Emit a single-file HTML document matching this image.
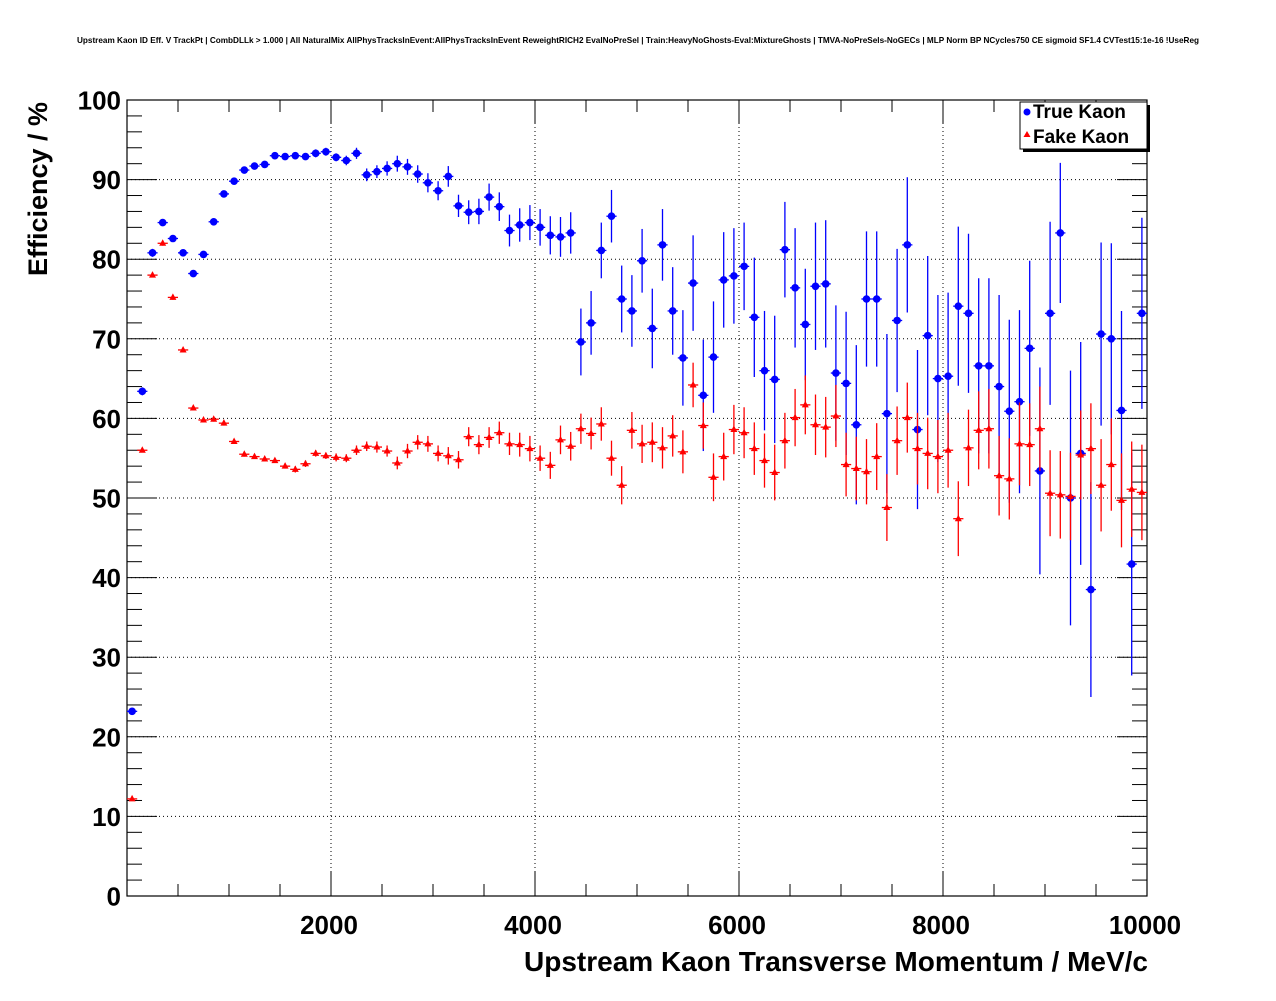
<!DOCTYPE html>
<html><head><meta charset="utf-8"><style>
html,body{margin:0;padding:0;background:#fff}
svg text{font-family:"Liberation Sans",sans-serif;font-weight:bold}
</style></head><body>
<svg id="c" width="1276" height="996" xmlns="http://www.w3.org/2000/svg">
<rect width="1276" height="996" fill="#fff"/>
<text x="638" y="43" font-size="8.2" text-anchor="middle">Upstream Kaon ID Eff. V TrackPt | CombDLLk &gt; 1.000 | All NaturalMix AllPhysTracksInEvent:AllPhysTracksInEvent ReweightRICH2 EvalNoPreSel | Train:HeavyNoGhosts-Eval:MixtureGhosts | TMVA-NoPreSels-NoGECs | MLP Norm BP NCycles750 CE sigmoid SF1.4 CVTest15:1e-16 !UseReg</text>
<g id="grid"></g>
<g id="axes"></g>
<g id="blue"></g>
<g id="red"></g>
<text x="47" y="189" font-size="27" text-anchor="middle" transform="rotate(-90 47 189)">Efficiency / %</text>
<text x="1148" y="971" font-size="28" text-anchor="end">Upstream Kaon Transverse Momentum / MeV/c</text>
<g>
<rect x="1023" y="105" width="127" height="47" fill="#000"/>
<rect x="1020" y="102" width="127" height="47" fill="#fff" stroke="#000" stroke-width="1"/>
<circle cx="1027" cy="112" r="3.5" fill="#0000ff"/>
<text x="1033" y="118" font-size="19" font-weight="normal">True Kaon</text>
<polygon points="1027,131 1030.5,137 1023.5,137" fill="#ff0000"/>
<text x="1033" y="143" font-size="19" font-weight="normal">Fake Kaon</text>
</g>
</svg>
<script>
const binCenters=[];for(let i=0;i<100;i++)binCenters.push(50+100*i);
const trueVals=[23.2,63.4,80.8,84.6,82.6,80.8,78.2,80.6,84.7,88.2,89.8,91.2,91.7,91.9,93.0,92.9,93.0,92.9,93.3,93.5,92.8,92.4,93.3,90.6,91.0,91.4,92.0,91.6,90.7,89.6,88.6,90.4,86.7,85.9,86.0,87.8,86.6,83.6,84.3,84.6,84.0,83.0,82.8,83.3,69.6,72.0,81.1,85.4,75.0,73.5,79.8,71.3,81.8,73.5,67.6,77.0,62.9,67.7,77.4,77.9,79.1,72.7,66.0,64.9,81.2,76.4,71.8,76.6,76.9,65.7,64.4,59.2,75.0,75.0,60.6,72.3,81.8,58.6,70.4,65.0,65.3,74.1,73.2,66.6,66.6,64.0,60.9,62.1,68.8,53.4,73.2,83.3,50.0,55.6,38.5,70.6,70.0,61.0,41.7,73.2];
const trueErrs=[0.4,0.5,0.5,0.4,0.4,0.4,0.4,0.4,0.4,0.4,0.4,0.4,0.4,0.4,0.4,0.4,0.4,0.4,0.5,0.5,0.5,0.6,0.7,0.8,0.8,0.9,1.0,1.0,1.1,1.2,1.2,1.3,1.4,1.5,1.6,1.7,1.8,2.0,2.1,2.2,2.3,2.4,2.5,2.6,4.2,4.0,3.5,3.3,4.2,4.5,4.0,5.0,4.5,5.5,6.0,6.0,7.0,7.0,6.0,6.0,5.5,7.5,7.5,8.0,6.0,7.5,7.0,8.0,8.0,8.5,9.0,10.0,8.5,8.5,10.0,9.0,8.5,10.0,10.0,10.5,10.5,10.0,10.0,11.0,11.0,11.5,11.5,11.5,11.0,13.0,11.5,8.8,16.0,14.0,13.5,11.5,12.0,12.5,14.0,12.0];
const fakeVals=[12.2,56.0,78.0,82.0,75.2,68.6,61.3,59.8,59.9,59.4,57.1,55.5,55.2,54.9,54.7,54.0,53.6,54.3,55.6,55.3,55.1,55.0,56.0,56.5,56.4,55.9,54.4,55.9,57.0,56.8,55.6,55.3,54.8,57.7,56.7,57.6,58.2,56.8,56.7,56.2,55.0,54.1,57.3,56.5,58.7,58.1,59.3,55.0,51.6,58.5,56.8,57.0,56.3,57.8,55.8,64.2,59.1,52.6,55.2,58.6,58.2,56.2,54.7,53.2,57.2,60.1,61.7,59.2,58.9,60.3,54.2,53.7,53.3,55.2,48.8,57.2,60.1,56.2,55.6,55.2,56.0,47.4,56.3,58.5,58.7,52.8,52.4,56.8,56.7,58.7,50.6,50.4,50.2,55.4,56.2,51.6,54.2,49.7,51.1,50.7];
const fakeErrs=[0.2,0.2,0.3,0.3,0.3,0.3,0.3,0.3,0.3,0.3,0.3,0.3,0.3,0.3,0.3,0.3,0.4,0.4,0.4,0.4,0.5,0.5,0.6,0.6,0.7,0.7,0.8,0.9,0.9,1.0,1.0,1.1,1.1,1.2,1.2,1.3,1.4,1.4,1.5,1.6,1.6,1.7,1.8,1.8,1.9,2.0,2.1,2.2,2.4,2.3,2.4,2.5,2.6,2.6,2.7,2.8,2.9,3.0,3.0,3.1,3.2,3.3,3.4,3.5,3.5,3.6,3.7,3.8,3.8,3.9,4.0,4.0,4.1,4.2,4.2,4.3,4.4,4.5,4.5,4.6,4.7,4.7,4.8,4.9,5.0,5.0,5.1,5.2,5.2,5.3,5.4,5.5,5.5,5.6,5.7,5.8,5.8,5.9,6.0,6.0];
const xTicks=[2000,4000,6000,8000,10000];
const yTicks=[0,10,20,30,40,50,60,70,80,90,100];
const NS='http://www.w3.org/2000/svg';
const X0=127,X1=1147,Y0=896,Y1=100;
const xs=v=>X0+(v/10000)*(X1-X0);
const ys=v=>Y0-(v/100)*(Y0-Y1);
function mk(tag,attrs,parent){const e=document.createElementNS(NS,tag);for(const k in attrs)e.setAttribute(k,attrs[k]);parent.appendChild(e);return e;}
const grid=document.getElementById('grid'),axes=document.getElementById('axes');
xTicks.forEach(t=>{if(t<10000){const l=mk('line',{x1:xs(t),x2:xs(t),y1:Y0,y2:Y1,stroke:'#000','stroke-width':1,'stroke-dasharray':'1,3'},grid);

}});
yTicks.forEach(t=>{if(t>0&&t<100){const l=mk('line',{x1:X0,x2:X1,y1:ys(t),y2:ys(t),stroke:'#000','stroke-width':1,'stroke-dasharray':'1,3'},grid);

}});
mk('rect',{x:X0,y:Y1,width:X1-X0,height:Y0-Y1,fill:'none',stroke:'#000','stroke-width':1.2},axes);
for(let v=500;v<10000;v+=500){const maj=v%2000===0;const L=maj?24:12;
mk('line',{x1:xs(v),x2:xs(v),y1:Y0,y2:Y0-L,stroke:'#000'},axes);
mk('line',{x1:xs(v),x2:xs(v),y1:Y1,y2:Y1+L,stroke:'#000'},axes);}
for(let v=2;v<100;v+=2){const maj=v%10===0;const L=maj?30:15;
mk('line',{x1:X0,x2:X0+L,y1:ys(v),y2:ys(v),stroke:'#000'},axes);
mk('line',{x1:X1,x2:X1-L,y1:ys(v),y2:ys(v),stroke:'#000'},axes);}
xTicks.forEach(t=>{const e=mk('text',{x:xs(t)-2,y:934,'font-size':26,'text-anchor':'middle'},axes);e.textContent=t;

});
yTicks.forEach(t=>{const e=mk('text',{x:121,y:ys(t)+9.5,'font-size':26,'text-anchor':'end'},axes);e.textContent=t;

});
function series(g,vals,errs,col,tri,name){
vals.forEach((v,i)=>{const cx=xs(binCenters[i]),cy=ys(v);
const gr=mk('g',{},g);


mk('line',{x1:cx,x2:cx,y1:Math.min(Y0,ys(v-errs[i])),y2:ys(v+errs[i]),stroke:col,'stroke-width':1.3},gr);
mk('line',{x1:xs(binCenters[i]-50),x2:xs(binCenters[i]+50),y1:cy,y2:cy,stroke:col,'stroke-width':1.3},gr);
if(tri)mk('polygon',{points:`${cx},${cy-4} ${cx+3.5},${cy+2.5} ${cx-3.5},${cy+2.5}`,fill:col},gr);
else mk('circle',{cx:cx,cy:cy,r:3.8,fill:col},gr);});}
series(document.getElementById('blue'),trueVals,trueErrs,'#0000ff',false,'true-kaon-point');
series(document.getElementById('red'),fakeVals,fakeErrs,'#ff0000',true,'fake-kaon-point');
</script>
</body></html>
